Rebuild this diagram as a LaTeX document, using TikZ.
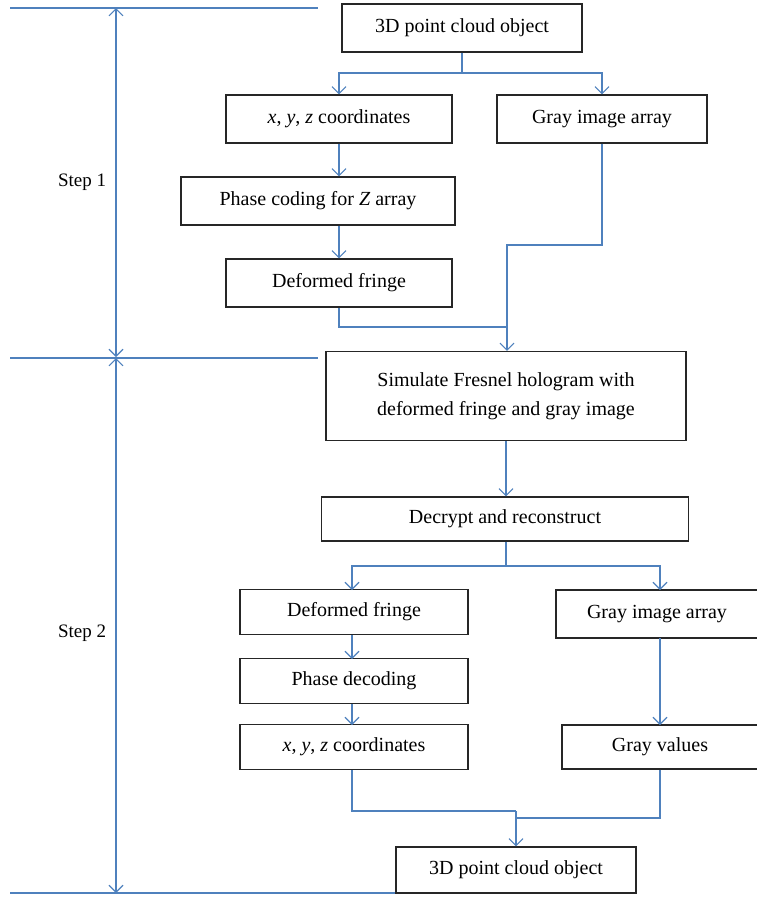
\documentclass[tikz,border=0pt]{standalone}
\usepackage{fontspec}
\setmainfont{Liberation Serif}
\usetikzlibrary{arrows.meta}
\definecolor{lineblue}{RGB}{79,129,189}
\begin{document}
\begin{tikzpicture}[x=1pt,y=-1pt,
  box/.style={draw=black!85, line width=1.2pt, inner sep=0pt, font=\fontsize{20}{24}\selectfont, align=center},
  link/.style={lineblue, line width=1.1pt, -{Straight Barb[length=7pt,width=14pt]}},
  steplabel/.style={black, font=\fontsize{19}{23}\selectfont},
  rule/.style={lineblue, line width=1.1pt}]
\useasboundingbox (0,0) rectangle (757,898);
% step 1
\node[box, minimum width=240pt, minimum height=48pt] (obj) at (462,28) {3D point cloud object};
\node[box, minimum width=226pt, minimum height=48pt] (xyz) at (339,119) {\textit{x}, \textit{y}, \textit{z} coordinates};
\node[box, minimum width=210pt, minimum height=48pt] (gray) at (602,119) {Gray image array};
\node[box, minimum width=274pt, minimum height=48pt] (phase) at (318,201) {Phase coding for \textit{Z} array};
\node[box, minimum width=226pt, minimum height=48pt] (fringe) at (339,283) {Deformed fringe};
% step 2
\node[box, minimum width=360pt, minimum height=89pt] (sim) at (506,396) {Simulate Fresnel hologram with\\[5pt]deformed fringe and gray image};
\node[box, minimum width=367pt, minimum height=44pt] (dec) at (505,519) {Decrypt and reconstruct};
\node[box, minimum width=228pt, minimum height=45pt] (fringeb) at (354,612) {Deformed fringe};
\node[box, minimum width=202pt, minimum height=48pt] (grayb) at (657,614) {Gray image array};
\node[box, minimum width=228pt, minimum height=45pt] (pdec) at (354,681) {Phase decoding};
\node[box, minimum width=228pt, minimum height=45pt] (xyzb) at (354,747) {\textit{x}, \textit{y}, \textit{z} coordinates};
\node[box, minimum width=196pt, minimum height=44pt] (vals) at (660,747) {Gray values};
\node[box, minimum width=240pt, minimum height=46pt] (objb) at (516,870) {3D point cloud object};
% step markers
\coordinate (t1) at (10,8);   \coordinate (t2) at (318,8);
\coordinate (m1) at (10,358); \coordinate (m2) at (318,358);
\coordinate (b1) at (10,893); \coordinate (b2) at (395,893);
\draw[rule] (t1) -- (t2);
\draw[rule] (m1) -- (m2);
\draw[rule] (b1) -- (b2);
\draw[link, {Straight Barb[length=7pt,width=14pt]}-{Straight Barb[length=7pt,width=14pt]}] (116,8) -- (116,357) node[midway, left=6pt, steplabel] (s1) {Step 1};
\draw[link, {Straight Barb[length=7pt,width=14pt]}-{Straight Barb[length=7pt,width=14pt]}] (116,358) -- (116,893) node[pos=0.515, left=6pt, steplabel] (s2) {Step 2};
% connectors
\coordinate (split1) at (462,73);
\draw[rule] (obj.south) -- (split1);
\draw[link] (split1) -| (xyz.north);
\draw[link] (split1) -| (gray.north);
\draw[link] (xyz.south) -- (phase.north -| xyz.south);
\draw[link] (phase.south -| fringe.north) -- (fringe.north);
\coordinate (join1) at (507,327);
\draw[rule] (fringe.south) |- (join1);
\draw[rule] (gray.south) |- (507,245) -- (join1);
\draw[link] (join1) -- (sim.north -| join1);
\draw[link] (sim.south) -- (dec.north -| sim.south);
\coordinate (split2) at (506,566);
\draw[rule] (dec.south -| split2) -- (split2);
\draw[link] (split2) -| (352,590);
\draw[link] (split2) -| (660,590);
\draw[link] (352,635) -- (352,659);
\draw[link] (352,704) -- (352,725);
\draw[link] (660,638) -- (660,725);
\coordinate (join2) at (516,818);
\draw[rule] (352,770) |- (516,811);
\draw[rule] (vals.south) |- (join2);
\draw[link] (516,811) -- (objb.north);
\end{tikzpicture}
\end{document}
